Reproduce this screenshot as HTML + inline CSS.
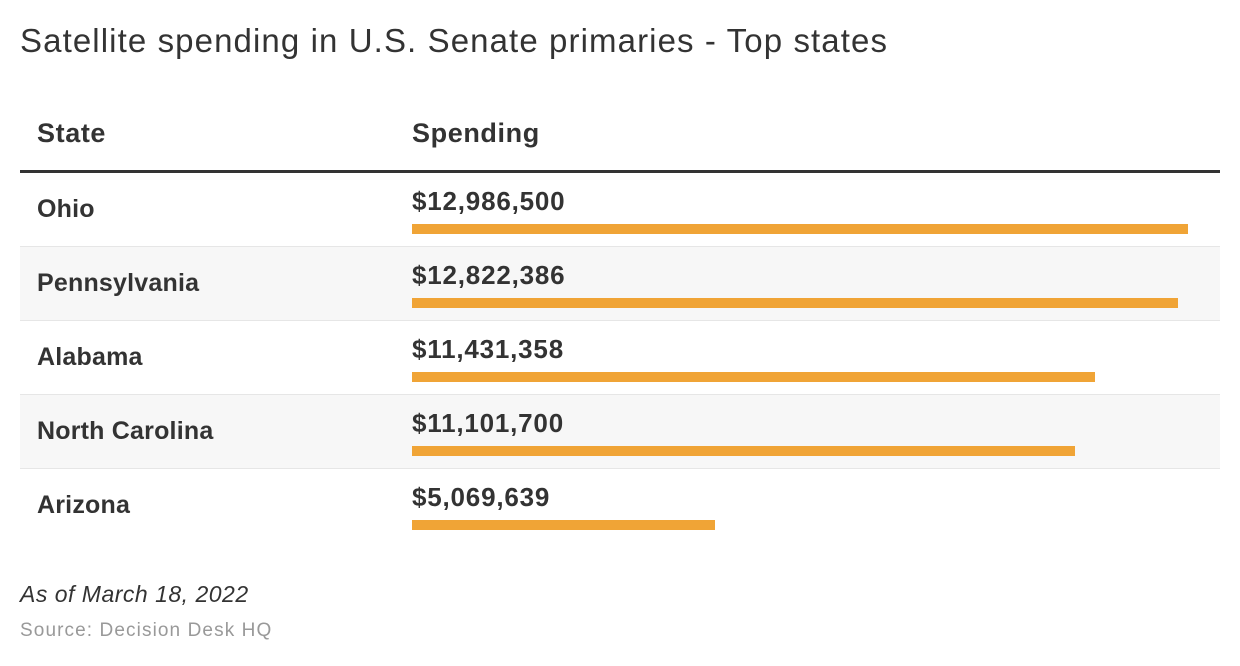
<!DOCTYPE html>
<html><head><meta charset="utf-8"><style>
body{margin:0;width:1240px;height:666px;background:#fff;font-family:"Liberation Sans",sans-serif;color:#333;position:relative;overflow:hidden}
.abs{position:absolute;white-space:nowrap}
#title{left:20px;top:22px;font-size:33px;letter-spacing:1.1px;color:#333}
.hdr{top:118px;font-size:27px;font-weight:bold;color:#333;letter-spacing:0.6px}
#rule{left:20px;top:170px;width:1200px;height:3px;background:#333}
.row{position:absolute;left:20px;width:1200px;height:73px;border-bottom:1px solid #e6e6e6}
.state{position:absolute;left:17px;top:22px;font-size:25px;font-weight:bold;letter-spacing:0.2px}
.val{position:absolute;left:392px;top:13px;font-size:26px;font-weight:bold;letter-spacing:0.8px}
.bar{position:absolute;left:392px;top:51px;height:10px;background:#f0a436}
#note{left:20px;top:581px;font-size:23px;font-style:italic;color:#333;letter-spacing:0.5px}
#src{left:20px;top:620px;font-size:19px;color:#999;letter-spacing:1.1px}
</style></head><body>
<div id="title" class="abs">Satellite spending in U.S. Senate primaries - Top states</div>
<div class="abs hdr" style="left:37px">State</div>
<div class="abs hdr" style="left:412px">Spending</div>
<div id="rule" class="abs"></div>
<div id="rows"></div>
<div id="note" class="abs">As of March 18, 2022</div>
<div id="src" class="abs">Source: Decision Desk HQ</div>
<script>
const states=["Ohio","Pennsylvania","Alabama","North Carolina","Arizona"];
const spending=[12986500,12822386,11431358,11101700,5069639];
const maxVal=Math.max(...spending);
const barMax=776;
function xScale(v){return v/maxVal*barMax;}
const wrap=document.getElementById('rows');
states.forEach((s,i)=>{
  const r=document.createElement('div');
  r.className='row';
  
  
  r.style.top=(173+i*74)+'px';
  if(i%2===1)r.style.background='#f7f7f7';
  if(i===states.length-1)r.style.borderBottom='none';
  const st=document.createElement('div');
  st.className='state';st.textContent=s;
  
  
  const v=document.createElement('div');
  v.className='val';v.textContent='$'+spending[i].toLocaleString('en-US');
  
  
  const b=document.createElement('div');
  b.className='bar';b.style.width=xScale(spending[i])+'px';
  
  
  r.appendChild(st);r.appendChild(v);r.appendChild(b);
  wrap.appendChild(r);
});
</script>
</body></html>
